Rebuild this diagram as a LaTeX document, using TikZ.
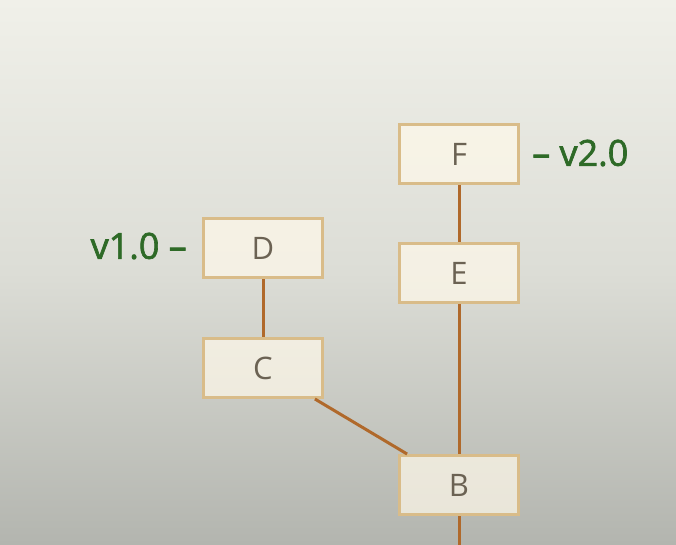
\documentclass[tikz,border=0pt]{standalone}
\usepackage{fontspec}
\setmainfont{Open Sans}
\newfontfamily\semib{Open Sans}[FakeBold=1.8]
\definecolor{bgtop}{HTML}{F0F0E9}
\definecolor{bgmid}{HTML}{DCDDD6}
\definecolor{bgbot}{HTML}{B3B5AF}
\definecolor{boxborder}{HTML}{D9BC89}
\definecolor{boxfill}{HTML}{FFF9EA}
\definecolor{edgecol}{HTML}{B0692B}
\definecolor{lettercol}{HTML}{6B6253}
\definecolor{tagcol}{HTML}{2E6A27}
\begin{document}
\begin{tikzpicture}[x=1pt,y=-1pt,
  commit/.style={draw=boxborder, line width=3pt, fill=boxfill, fill opacity=0.7, text opacity=1,
    minimum width=119pt, minimum height=59pt, inner sep=0pt, text=lettercol,
    font=\fontsize{31}{33}\selectfont},
  edge/.style={draw=edgecol, line width=3pt},
  tag/.style={text=tagcol, font=\semib\fontsize{36}{39}\selectfont, inner sep=0pt}]
\useasboundingbox (0,0) rectangle (676,544);
\shade[top color=bgtop, bottom color=bgbot, middle color=bgmid] (0,0) rectangle (676,544);
\node[commit] (F) at (459,154) {F};
\node[commit] (E) at (459,273) {E};
\node[commit] (D) at (263,248) {D};
\node[commit] (C) at (263,368) {C};
\node[commit] (B) at (459,485) {B};
\coordinate (bot) at (459,548);
\draw[edge] (B) -- (bot);
\draw[edge] (F) -- (E);
\draw[edge] (E) -- (B);
\draw[edge] (D) -- (C);
\draw[edge] (C) -- (B);
\node[tag, anchor=west] (t2) at (532,153) {– v2.0};
\node[tag, anchor=east] (t1) at (187,246) {v1.0 –};
\end{tikzpicture}
\end{document}
